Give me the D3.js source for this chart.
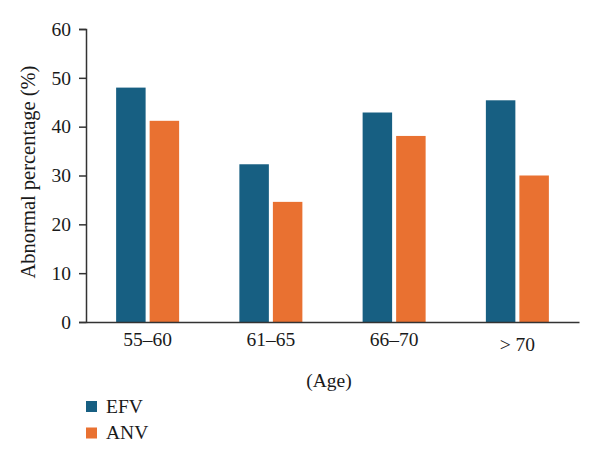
<!DOCTYPE html>
<html>
<head>
<meta charset="utf-8">
<script src="https://cdn.jsdelivr.net/npm/d3@7"></script>
<style>
  body { margin: 0; background: #fff; }
  text { font-family: "Liberation Serif", "Times New Roman", serif; fill: #1a1a1a; }
</style>
</head>
<body>
<div id="chart"></div>
<script>
var ageGroups = ["55–60", "61–65", "66–70", "> 70"];
var seriesNames = ["EFV", "ANV"];
var efvValues = [48.0, 32.3, 42.9, 45.4];
var anvValues = [41.2, 24.6, 38.1, 30.0];
var yTicks = [0, 10, 20, 30, 40, 50, 60];

var colors = {EFV: "#175f82", ANV: "#e97131"};

var svgWidth = 600, svgHeight = 460;
var margin = {top: 29, right: 21, bottom: 138, left: 86};
var width = svgWidth - margin.left - margin.right;
var height = svgHeight - margin.top - margin.bottom;

var svg = d3.select("#chart")
    .append("svg")
    .attr("width", svgWidth)
    .attr("height", svgHeight);

var chart = svg.append("g")
    .attr("transform", "translate(" + margin.left + "," + margin.top + ")");

var data = ageGroups.map(function(g, i) {
    return {group: g, EFV: efvValues[i], ANV: anvValues[i]};
});

var x0 = d3.scaleBand().domain(ageGroups).range([0, width]).padding(0);
var x1 = d3.scaleBand().domain(seriesNames)
    .range([x0.bandwidth() / 2 - 31.5, x0.bandwidth() / 2 + 31.5])
    .paddingInner(0.12);
var y = d3.scaleLinear().domain([0, 60]).range([height, 0]);

// bars
chart.selectAll(".group")
    .data(data)
    .enter()
    .append("g")
    .attr("transform", function(d) { return "translate(" + x0(d.group) + ",0)"; })
    .selectAll("rect")
    .data(function(d) { return seriesNames.map(function(k) { return {key: k, value: d[k]}; }); })
    .enter()
    .append("rect")
    .attr("x", function(d) { return x1(d.key); })
    .attr("y", function(d) { return y(d.value); })
    .attr("width", x1.bandwidth())
    .attr("height", function(d) { return height - y(d.value); })
    .attr("fill", function(d) { return colors[d.key]; });

// y axis
var yAxis = chart.append("g")
    .call(d3.axisLeft(y).tickValues(yTicks).tickSize(7).tickPadding(8));
yAxis.attr("font-family", null).attr("font-size", null);
yAxis.select(".domain").attr("stroke", "#333").attr("stroke-width", 1.5);
yAxis.selectAll(".tick line").attr("stroke", "#333").attr("stroke-width", 1.5);
yAxis.selectAll("text").style("font-size", "19.5px").attr("fill", "#1a1a1a");

// x axis
var xAxis = chart.append("g")
    .attr("transform", "translate(0," + height + ")")
    .call(d3.axisBottom(x0).tickSize(0).tickPadding(10));
xAxis.attr("font-family", null).attr("font-size", null);
xAxis.select(".domain").attr("stroke", "#333").attr("stroke-width", 1.5);
xAxis.selectAll("text").style("font-size", "19.5px").attr("fill", "#1a1a1a");
xAxis.selectAll(".tick").filter(function(d) { return d === "> 70"; })
    .select("text").attr("dy", "0.98em");

// axis titles
chart.append("text")
    .attr("transform", "rotate(-90)")
    .attr("x", -(172 - margin.top))
    .attr("y", -margin.left + 35)
    .attr("text-anchor", "middle")
    .style("font-size", "20.5px")
    .text("Abnormal percentage (%)");

chart.append("text")
    .attr("x", 329 - margin.left)
    .attr("y", height + 65)
    .attr("text-anchor", "middle")
    .style("font-size", "19.5px")
    .text("(Age)");

// legend
var legend = svg.append("g").attr("transform", "translate(86,401)");
var items = legend.selectAll("g")
    .data(seriesNames)
    .enter()
    .append("g")
    .attr("transform", function(d, i) { return "translate(0," + i * 26.5 + ")"; });
items.append("rect")
    .attr("width", 11)
    .attr("height", 11)
    .attr("fill", function(d) { return colors[d]; });
items.append("text")
    .attr("x", 20)
    .attr("y", 11.5)
    .style("font-size", "19.5px")
    .text(function(d) { return d; });
</script>
</body>
</html>
